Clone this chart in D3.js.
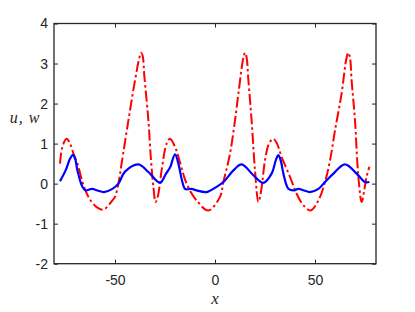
<!DOCTYPE html>
<html>
<head>
<meta charset="utf-8">
<script src="https://cdn.jsdelivr.net/npm/d3@7"></script>
<style>
  html, body { margin: 0; padding: 0; background: #fff; }
  svg { display: block; }
  .tick text { font-family: "Liberation Sans", Arial, Helvetica, sans-serif; font-size: 14px; fill: #262626; }
</style>
</head>
<body>
<div id="chart"></div>
<script>
// ---- data ----
const xTicks = [-50, 0, 50];
const yTicks = [-2, -1, 0, 1, 2, 3, 4];
const xLabel = "x";
const yLabel = "u, w";

// red dash-dot curve
const redX = [-77.5,-76.3,-74.2,-72.5,-70.5,-68.8,-65.5,-62.2,-58.8,-55.8,-51.3,-50,-48.3,-46.7,-43.3,-40,-37.8,-37,-36.2,-35.3,-33.3,-32,-30.8,-29.7,-28.5,-26.7,-24.2,-22.5,-20,-18.3,-14.2,-9.2,-3.3,2.5,4.2,7.5,10,11.7,14.2,15,15.8,16.7,18.3,20,21.7,23,25,27,29.2,31,33.3,37.5,40.8,44.2,47.8,51.7,55,57.5,60,63.3,65.8,66.7,67.5,68.3,70,71.2,72.2,73.3,75.8,77.2];
const redY = [0.5,0.92,1.12,1.0,0.71,0.5,-0.08,-0.42,-0.6,-0.65,-0.42,-0.33,0.0,0.5,1.58,2.58,3.15,3.27,3.2,2.67,1.58,0.58,-0.08,-0.46,-0.3,0.33,1.0,1.12,0.92,0.67,0.0,-0.42,-0.67,-0.33,0.04,0.75,1.58,2.25,3.15,3.27,3.15,2.58,1.58,0.33,-0.46,-0.2,0.58,1.0,1.12,1.0,0.67,0.17,-0.25,-0.54,-0.67,-0.42,0.04,0.58,1.33,2.25,3.15,3.27,3.15,2.58,1.58,0.5,-0.1,-0.46,0.17,0.42];

// blue solid curve
const blueX = [-77.5,-74.7,-72.5,-71,-69.8,-68.8,-66.3,-64.7,-62.5,-61.3,-58.8,-55.5,-51.3,-48.3,-45,-38.3,-33.3,-27.5,-24.5,-22.5,-20,-18.3,-16.7,-15,-13.5,-11.7,-9.2,-4.2,0.8,4.2,9.2,13.3,19.2,24.2,28.3,30.5,31.7,33,34.2,36.7,39.2,41.7,44.5,47.5,51.7,55,59.2,65,70.8,75,77.2];
const blueY = [0.06,0.33,0.62,0.72,0.6,0.33,-0.08,-0.17,-0.14,-0.13,-0.17,-0.21,-0.13,0.0,0.3,0.48,0.29,0.02,0.25,0.4,0.73,0.5,0.12,-0.13,-0.14,-0.13,-0.17,-0.21,-0.08,0.04,0.33,0.48,0.21,0.02,0.25,0.6,0.71,0.55,0.25,-0.13,-0.17,-0.13,-0.17,-0.21,-0.13,0.04,0.25,0.48,0.25,0.04,0.04];

// ---- layout ----
const W = 415, H = 312;
const mLeft = 54, mRight = 376, mTop = 23.5, mBottom = 263.7;

const svg = d3.select("#chart").append("svg").attr("width", W).attr("height", H);

const x = d3.scaleLinear().domain([-80.5, 80.5]).range([mLeft, mRight]);
const y = d3.scaleLinear().domain([-2, 4]).range([mBottom, mTop]);

const axisColor = "#262626";
const fmt = d => String(d);

// axes
const gB = svg.append("g").attr("transform", `translate(0,${mBottom})`)
  .call(d3.axisBottom(x).tickValues(xTicks).tickSize(-4).tickPadding(11).tickFormat(fmt));
const gT = svg.append("g").attr("transform", `translate(0,${mTop})`)
  .call(d3.axisTop(x).tickValues(xTicks).tickSize(-4).tickFormat(""));
const gL = svg.append("g").attr("transform", `translate(${mLeft},0)`)
  .call(d3.axisLeft(y).tickValues(yTicks).tickSize(-4).tickPadding(6).tickFormat(fmt));
const gR = svg.append("g").attr("transform", `translate(${mRight},0)`)
  .call(d3.axisRight(y).tickValues(yTicks).tickSize(-4).tickFormat(""));

[gB, gT, gL, gR].forEach(g => {
  g.select(".domain").remove();
  g.selectAll(".tick line").attr("stroke", axisColor).attr("stroke-width", 1);
});

// lines
const line = d3.line().x(d => x(d[0])).y(d => y(d[1])).curve(d3.curveCatmullRom.alpha(0.5));

const redData = redX.map((v, i) => [v, redY[i]]);
const blueData = blueX.map((v, i) => [v, blueY[i]]);

svg.append("path").datum(redData)
  .attr("d", line).attr("fill", "none").attr("stroke", "#ff0000")
  .attr("stroke-width", 2).attr("stroke-dasharray", "11,3,2.5,3");

svg.append("path").datum(blueData)
  .attr("d", line).attr("fill", "none").attr("stroke", "#0000ff")
  .attr("stroke-width", 2.2);

// box
svg.append("rect").attr("x", mLeft).attr("y", mTop)
  .attr("width", mRight - mLeft).attr("height", mBottom - mTop)
  .attr("fill", "none").attr("stroke", axisColor).attr("stroke-width", 1.3);

// axis labels
svg.append("text").attr("x", (mLeft + mRight) / 2).attr("y", 304)
  .attr("text-anchor", "middle")
  .style("font-family", "'Liberation Serif', 'Times New Roman', serif")
  .style("font-style", "italic").style("font-size", "17px").attr("fill", axisColor)
  .text(xLabel);

svg.append("text").attr("x", 25).attr("y", 123)
  .attr("text-anchor", "middle")
  .style("font-family", "'Liberation Serif', 'Times New Roman', serif")
  .style("font-style", "italic").style("font-size", "16px").attr("fill", axisColor)
  .style("letter-spacing", "1px")
  .text(yLabel);
</script>
</body>
</html>
